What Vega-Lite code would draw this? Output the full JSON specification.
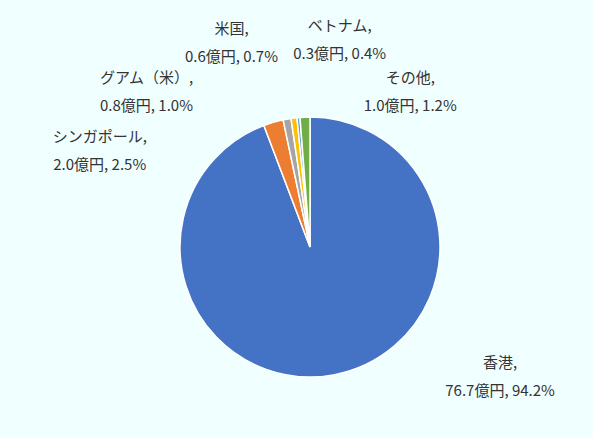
{
  "$schema": "https://vega.github.io/schema/vega-lite/v6.json",
  "autosize": "none",
  "width": 566,
  "height": 382,
  "padding": {"left": 27, "top": 56, "right": 0, "bottom": 0},
  "background": "#F0FFFF",
  "config": {"view": {"stroke": null}},
  "data": {
    "values": [
      {"name": "香港", "value": 76.7, "order": 1, "label": "香港,\n76.7億円, 94.2%"},
      {"name": "シンガポール", "value": 2.0, "order": 2, "label": "シンガポール,\n2.0億円, 2.5%"},
      {"name": "グアム（米）", "value": 0.8, "order": 3, "label": "グアム（米）,\n0.8億円, 1.0%"},
      {"name": "米国", "value": 0.6, "order": 4, "label": "米国,\n0.6億円, 0.7%"},
      {"name": "ベトナム", "value": 0.3, "order": 5, "label": "ベトナム,\n0.3億円, 0.4%"},
      {"name": "その他", "value": 1.0, "order": 6, "label": "その他,\n1.0億円, 1.2%"}
    ]
  },
  "encoding": {
    "theta": {"field": "value", "type": "quantitative", "stack": true},
    "order": {"field": "order", "type": "quantitative"}
  },
  "layer": [
    {
      "mark": {"type": "arc", "outerRadius": 130, "stroke": "white", "strokeWidth": 1.5},
      "encoding": {
        "color": {
          "field": "name", "type": "nominal", "legend": null,
          "scale": {
            "domain": ["香港", "シンガポール", "グアム（米）", "米国", "ベトナム", "その他"],
            "range": ["#4472C4", "#ED7D31", "#A5A5A5", "#FFC000", "#5B9BD5", "#70AD47"]
          }
        }
      }
    },
    {
      "mark": {"type": "text", "radius": 150, "dx": 163, "dy": -32, "lineBreak": "\n", "lineHeight": 28, "font": "Noto Sans CJK JP", "fontSize": 15, "fill": "#333333", "align": "center", "baseline": "middle"},
      "encoding": {"text": {"condition": {"test": "datum.name === '香港'", "field": "label"}, "value": ""}}
    },
    {
      "mark": {"type": "text", "radius": 150, "dx": -168, "dy": 34, "lineBreak": "\n", "lineHeight": 28, "font": "Noto Sans CJK JP", "fontSize": 15, "fill": "#333333", "align": "center", "baseline": "middle"},
      "encoding": {"text": {"condition": {"test": "datum.name === 'シンガポール'", "field": "label"}, "value": ""}}
    },
    {
      "mark": {"type": "text", "radius": 150, "dx": -137, "dy": -21, "lineBreak": "\n", "lineHeight": 28, "font": "Noto Sans CJK JP", "fontSize": 15, "fill": "#333333", "align": "center", "baseline": "middle"},
      "encoding": {"text": {"condition": {"test": "datum.name === 'グアム（米）'", "field": "label"}, "value": ""}}
    },
    {
      "mark": {"type": "text", "radius": 150, "dx": -60, "dy": -69, "lineBreak": "\n", "lineHeight": 28, "font": "Noto Sans CJK JP", "fontSize": 15, "fill": "#333333", "align": "center", "baseline": "middle"},
      "encoding": {"text": {"condition": {"test": "datum.name === '米国'", "field": "label"}, "value": ""}}
    },
    {
      "mark": {"type": "text", "radius": 150, "dx": 43, "dy": -72, "lineBreak": "\n", "lineHeight": 28, "font": "Noto Sans CJK JP", "fontSize": 15, "fill": "#333333", "align": "center", "baseline": "middle"},
      "encoding": {"text": {"condition": {"test": "datum.name === 'ベトナム'", "field": "label"}, "value": ""}}
    },
    {
      "mark": {"type": "text", "radius": 150, "dx": 106, "dy": -19, "lineBreak": "\n", "lineHeight": 28, "font": "Noto Sans CJK JP", "fontSize": 15, "fill": "#333333", "align": "center", "baseline": "middle"},
      "encoding": {"text": {"condition": {"test": "datum.name === 'その他'", "field": "label"}, "value": ""}}
    }
  ]
}
